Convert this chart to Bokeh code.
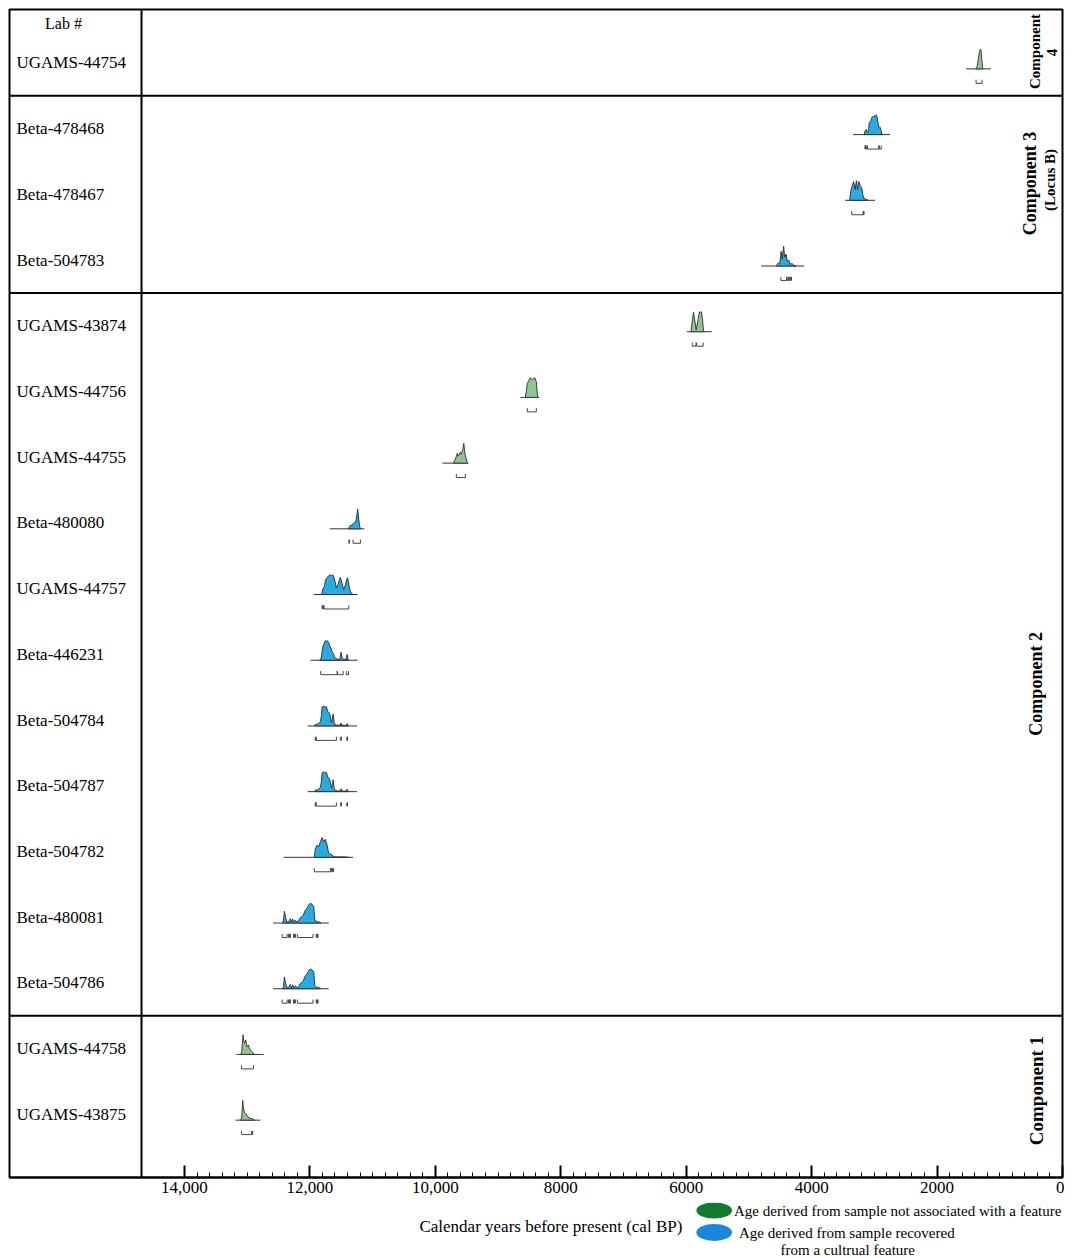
from math import pi
from bokeh.plotting import figure
from bokeh.models import Range1d, FixedTicker
from bokeh.layouts import column
from bokeh.embed import file_html
from bokeh.resources import INLINE
from bokeh.core.properties import value

# ---------------- data ----------------
LAB_IDS = ["UGAMS-44754", "Beta-478468", "Beta-478467", "Beta-504783", "UGAMS-43874",
           "UGAMS-44756", "UGAMS-44755", "Beta-480080", "UGAMS-44757", "Beta-446231",
           "Beta-504784", "Beta-504787", "Beta-504782", "Beta-480081", "Beta-504786",
           "UGAMS-44758", "UGAMS-43875"]

# True = sample recovered from a cultural feature (blue), False = not associated (green)
FROM_FEATURE = [False, True, True, True, False, False, False, True, True, True,
                True, True, True, True, True, False, False]

# extent of the probability baseline (cal BP)
BASE_START = [1540, 3339, 3466, 4805, 5989, 8645, 9888, 11684, 11939, 11992,
              12035, 12035, 12418, 12586, 12586, 13171, 13187]
BASE_END = [1140, 2749, 2988, 4120, 5590, 8343, 9474, 11132, 11238, 11238,
            11248, 11248, 11312, 11700, 11700, 12736, 12789]

# calibrated probability curves: years (cal BP) and relative probability
DENS_YEARS = [
    [1386, 1363, 1347, 1326, 1310, 1299, 1288, 1275, 1267],
    [3163, 3147, 3124, 3108, 3092, 3084, 3060, 3036, 3012, 2988, 2972, 2956, 2940, 2924, 2908, 2892, 2876],
    [3394, 3378, 3355, 3331, 3307, 3286, 3267, 3248, 3227, 3203, 3187, 3171, 3131, 3100],
    [4566, 4534, 4510, 4486, 4470, 4446, 4430, 4406, 4391, 4367, 4343, 4311, 4279, 4247],
    [5925, 5909, 5884, 5865, 5841, 5817, 5788, 5756, 5740, 5724, 5705],
    [8566, 8550, 8534, 8510, 8486, 8462, 8438, 8414, 8390, 8375, 8367],
    [9713, 9681, 9649, 9633, 9602, 9586, 9562, 9546, 9530, 9514, 9498, 9490],
    [11386, 11370, 11347, 11331, 11315, 11291, 11267, 11251, 11238, 11222, 11206, 11187],
    [11813, 11789, 11769, 11753, 11729, 11705, 11681, 11657, 11633, 11618, 11594, 11578,
     11554, 11530, 11514, 11490, 11461, 11434, 11410, 11398, 11378, 11355, 11328, 11315],
    [11841, 11817, 11805, 11793, 11777, 11753, 11737, 11721, 11700, 11681, 11665, 11646,
     11625, 11610, 11586, 11562, 11522, 11503, 11487, 11466, 11426, 11407, 11391, 11378],
    [11928, 11912, 11880, 11860, 11833, 11817, 11805, 11780, 11753, 11737, 11716, 11685, 11665,
     11657, 11641, 11630, 11618, 11610, 11562, 11514, 11503, 11490, 11418, 11407, 11394, 11382],
    [11928, 11912, 11880, 11860, 11833, 11817, 11805, 11780, 11753, 11737, 11716, 11685, 11665,
     11657, 11641, 11630, 11618, 11610, 11562, 11514, 11503, 11490, 11418, 11407, 11394, 11382],
    [11933, 11912, 11885, 11860, 11833, 11805, 11780, 11753, 11726, 11700, 11673, 11646, 11621,
     11578, 11514, 11450, 11386],
    [12438, 12422, 12406, 12390, 12367, 12335, 12311, 12295, 12274, 12255, 12231, 12207, 12183,
     12151, 12124, 12104, 12083, 12056, 12040, 12019, 11992, 11965, 11939, 11928, 11923, 11885,
     11865, 11844, 11825],
    [12438, 12422, 12406, 12390, 12367, 12335, 12311, 12295, 12274, 12255, 12231, 12207, 12183,
     12151, 12124, 12104, 12083, 12056, 12040, 12019, 11992, 11965, 11939, 11928, 11923, 11885,
     11865, 11844, 11825],
    [13100, 13087, 13076, 13065, 13055, 13044, 13023, 13012, 13001, 12980, 12964, 12948, 12921, 12896, 12884],
    [13100, 13087, 13076, 13071, 13060, 13044, 13023, 13001, 12975, 12948, 12921, 12896, 12884],
]
DENS_VALUES = [
    [0, 0.1, 0.4, 0.85, 1.0, 0.95, 0.5, 0.1, 0],
    [0, 0.21, 0.26, 0.1, 0.16, 0.58, 0.68, 0.89, 0.92, 0.95, 1.0, 0.89, 0.58, 0.32, 0.37, 0.21, 0],
    [0, 0.45, 0.7, 0.95, 0.55, 1.0, 0.55, 0.95, 0.75, 0.65, 0.35, 0.1, 0.05, 0],
    [0, 0.15, 0.1, 0.75, 0.35, 1.0, 0.45, 0.6, 0.25, 0.3, 0.1, 0.12, 0.03, 0],
    [0, 0.4, 0.98, 0.6, 0.1, 0.5, 1.0, 1.0, 0.6, 0.05, 0],
    [0, 0.3, 0.7, 0.85, 1.0, 0.9, 0.95, 1.0, 0.8, 0.2, 0],
    [0, 0.2, 0.5, 0.35, 0.55, 0.45, 0.7, 1.0, 0.5, 0.3, 0.1, 0],
    [0, 0.1, 0.2, 0.15, 0.25, 0.3, 0.4, 0.7, 1.0, 0.5, 0.1, 0],
    [0, 0.33, 0.4, 0.74, 0.84, 0.94, 1.0, 0.96, 0.99, 0.89, 0.59, 0.33,
     0.49, 0.74, 0.87, 0.59, 0.25, 0.49, 0.79, 0.85, 0.49, 0.15, 0.05, 0],
    [0, 0.14, 0.48, 0.71, 0.83, 1.0, 0.95, 1.0, 0.9, 0.71, 0.62, 0.43,
     0.33, 0.19, 0.1, 0.05, 0.05, 0.41, 0.14, 0.05, 0.05, 0.29, 0.05, 0],
    [0, 0.08, 0.1, 0.12, 0.22, 0.5, 0.97, 1.0, 0.95, 0.98, 0.73, 0.65, 0.3,
     0.18, 0.4, 0.6, 0.3, 0.1, 0.03, 0.05, 0.15, 0.03, 0.03, 0.12, 0.03, 0],
    [0, 0.08, 0.1, 0.12, 0.22, 0.5, 0.97, 1.0, 0.95, 0.98, 0.73, 0.65, 0.3,
     0.18, 0.4, 0.6, 0.3, 0.1, 0.03, 0.05, 0.15, 0.03, 0.03, 0.12, 0.03, 0],
    [0, 0.45, 0.62, 0.54, 0.79, 1.0, 0.79, 0.92, 0.62, 0.2, 0.17, 0.12, 0.03, 0.02, 0.02, 0.02, 0],
    [0, 0.1, 0.6, 0.3, 0.05, 0.08, 0.22, 0.05, 0.2, 0.05, 0.15, 0.05, 0.1,
     0.28, 0.33, 0.4, 0.6, 0.72, 0.78, 0.93, 1.0, 0.95, 0.85, 0.4, 0.12, 0.08,
     0.05, 0.05, 0],
    [0, 0.1, 0.6, 0.3, 0.05, 0.08, 0.22, 0.05, 0.2, 0.05, 0.15, 0.05, 0.1,
     0.28, 0.33, 0.4, 0.6, 0.72, 0.78, 0.93, 1.0, 0.95, 0.85, 0.4, 0.12, 0.08,
     0.05, 0.05, 0],
    [0, 0.15, 0.62, 1.0, 0.67, 0.57, 0.74, 0.52, 0.39, 0.48, 0.31, 0.22, 0.13, 0.03, 0],
    [0, 0.15, 0.7, 1.0, 0.6, 0.4, 0.33, 0.22, 0.12, 0.1, 0.07, 0.02, 0],
]

# calibrated age ranges shown as brackets under each curve (cal BP, older -> younger)
RANGES = [
    [[1378, 1283]],
    [[3150, 3140], [3135, 3120], [3110, 2930], [2920, 2890]],
    [[3360, 3180], [3172, 3165]],
    [[4490, 4400], [4390, 4372], [4362, 4348], [4338, 4322]],
    [[5904, 5845], [5835, 5730]],
    [[8534, 8390]],
    [[9665, 9522]],
    [[11378, 11370], [11312, 11195]],
    [[11805, 11797], [11790, 11782], [11775, 11380]],
    [[11828, 11566], [11560, 11470], [11420, 11385]],
    [[11915, 11905], [11900, 11578], [11510, 11498], [11412, 11400]],
    [[11915, 11905], [11900, 11578], [11510, 11498], [11412, 11400]],
    [[11930, 11673], [11655, 11645], [11632, 11622]],
    [[12443, 12363], [12340, 12330], [12320, 12311], [12262, 12252], [12242, 12232],
     [12200, 11950], [11900, 11890], [11880, 11870]],
    [[12443, 12363], [12340, 12330], [12320, 12311], [12262, 12252], [12242, 12232],
     [12200, 11950], [11900, 11890], [11880, 11870]],
    [[13092, 12900]],
    [[13092, 12930], [12925, 12912]],
]

# components (first row, last row)
GROUP_ROWS = [(0, 0), (1, 3), (4, 14), (15, 16)]

TICK_VALUES = [14000, 12000, 10000, 8000, 6000, 4000, 2000, 0]
TICK_LABELS = ["14,000", "12,000", "10,000", "8000", "6000", "4000", "2000", "0"]

# ---------------- layout / style ----------------
FONT = "Liberation Serif"
X_LEFT = 16790          # left edge of the table (label column)
SEP_X = 14685           # boundary between label column and chart
Y_BOTTOM, Y_TOP = 16.963, -0.814
BASE_OFF = 0.09         # baseline offset below row centre (rows)
PEAK_H = 0.30           # height of a curve peak (rows)
BRACKET_OFF = 0.31
BRACKET_H = 0.055
GREEN = "#8ec68e"
BLUE = "#29abe2"

p = figure(width=1064, height=1202, x_range=Range1d(X_LEFT, 0),
           y_range=Range1d(Y_BOTTOM, Y_TOP), output_backend="svg",
           toolbar_location=None, y_axis_location=None,
           min_border_left=9, min_border_right=2, min_border_top=9, min_border_bottom=25)
p.grid.visible = False
p.outline_line_color = "black"
p.outline_line_width = 2
p.outline_line_alpha = 1

ax = p.xaxis[0]
ax.ticker = FixedTicker(ticks=TICK_VALUES, minor_ticks=list(range(200, 14000, 200)))
ax.major_label_overrides = {t: l for t, l in zip(TICK_VALUES, TICK_LABELS)}
ax.major_tick_in = 12
ax.major_tick_out = 0
ax.minor_tick_in = 5
ax.minor_tick_out = 0
ax.axis_line_width = 2
ax.major_tick_line_width = 2
ax.minor_tick_line_width = 1
ax.major_label_text_font = FONT
ax.major_label_text_font_size = "17px"
ax.major_label_text_color = "black"
ax.major_label_standoff = 4

# table rules
p.segment(x0=[SEP_X], y0=[Y_BOTTOM], x1=[SEP_X], y1=[Y_TOP], line_color="black", line_width=2)
bounds = [(GROUP_ROWS[k][1] + GROUP_ROWS[k + 1][0]) / 2 for k in range(len(GROUP_ROWS) - 1)]
p.segment(x0=[X_LEFT] * len(bounds), y0=bounds, x1=[0] * len(bounds), y1=bounds,
          line_color="black", line_width=2)

# header and lab ids
p.text(x=[X_LEFT], y=[-0.6], text=["Lab #"], x_offset=54, text_align="center",
       text_baseline="middle", text_font=value(FONT), text_font_size="16px", text_color="black")
rows = list(range(len(LAB_IDS)))
p.text(x=[X_LEFT] * len(rows), y=rows, text=LAB_IDS, x_offset=7, text_align="left",
       text_baseline="middle", text_font=value(FONT), text_font_size="17px", text_color="black")

# baselines
base_y = [r + BASE_OFF for r in rows]
p.segment(x0=BASE_START, y0=base_y, x1=BASE_END, y1=base_y, line_color="#333333", line_width=1)

# probability curves
xs, ys, fills = [], [], []
for r, yrs, vals, feat in zip(rows, DENS_YEARS, DENS_VALUES, FROM_FEATURE):
    xs.append(yrs)
    ys.append([r + BASE_OFF - v * PEAK_H for v in vals])
    fills.append(BLUE if feat else GREEN)
p.patches(xs=xs, ys=ys, fill_color=fills, line_color="#2b2b2b", line_width=0.9)

# range brackets
bx, by = [], []
for r, rngs in zip(rows, RANGES):
    yb = r + BRACKET_OFF
    for a, b in rngs:
        bx.append([a, a, b, b])
        by.append([yb - BRACKET_H, yb, yb, yb - BRACKET_H])
p.multi_line(xs=bx, ys=by, line_color="#444444", line_width=1)

# component labels (rotated)
COMP_TEXT = ["Component", "4", "Component  3", "(Locus B)", "Component 2", "Component 1"]
COMP_X = [446, 160, 520, 199, 430, 422]
COMP_Y = [-0.175, -0.16, 1.80, 1.78, 9.45, 15.64]
COMP_SIZE = ["15px", "15px", "18px", "15px", "18px", "19px"]
for t, x, y, s in zip(COMP_TEXT, COMP_X, COMP_Y, COMP_SIZE):
    p.text(x=[x], y=[y], text=[t], angle=pi / 2, text_align="center", text_baseline="middle",
           text_font=value(FONT), text_font_size=s, text_font_style="bold", text_color="black")

# ---------------- bottom strip: axis title + legend ----------------
p2 = figure(width=1072, height=56, x_range=Range1d(0, 1072), y_range=Range1d(1258, 1202),
            output_backend="svg", toolbar_location=None, x_axis_location=None,
            y_axis_location=None, min_border=0)
p2.grid.visible = False
p2.outline_line_color = None
p2.text(x=[547], y=[1226], text=["Calendar years before present (cal BP)"], text_align="center",
        text_baseline="middle", text_font=value(FONT), text_font_size="17px", text_color="black")
p2.ellipse(x=[712, 712], y=[1210, 1232], width=[36, 36], height=[16, 17],
           fill_color=["#117a2c", "#1a86dd"], line_color=None)
LEGEND_TEXT = ["Age derived from sample not associated with a feature",
               "Age derived from sample recovered", "from a cultrual feature"]
p2.text(x=[732, 737, 779], y=[1210, 1232, 1249], text=LEGEND_TEXT, text_align="left",
        text_baseline="middle", text_font=value(FONT), text_font_size="15px", text_color="black")

layout = column(p, p2, spacing=0)
open("out.html", "w").write(file_html(layout, INLINE))
